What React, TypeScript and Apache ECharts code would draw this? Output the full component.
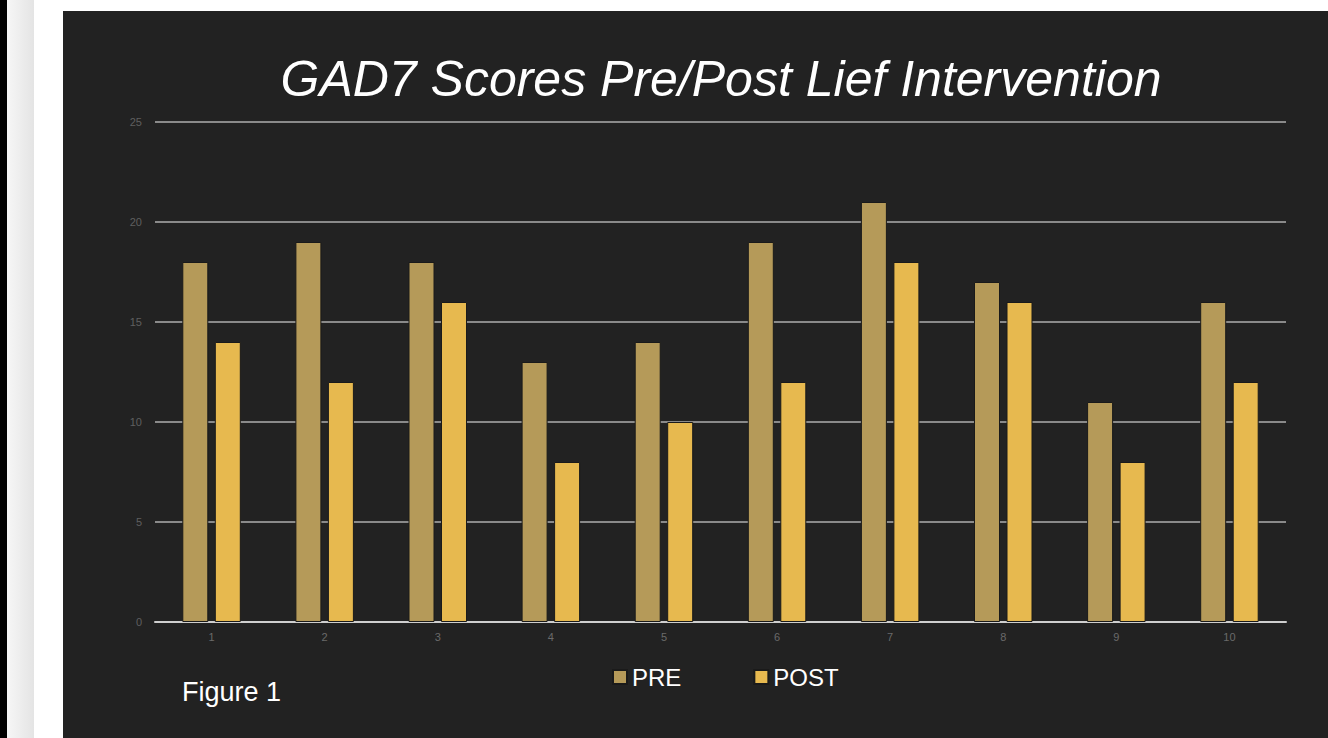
import React, { useEffect, useRef } from "react";
import * as echarts from "echarts";

const categories = ["1", "2", "3", "4", "5", "6", "7", "8", "9", "10"];
const preValues = [18, 19, 18, 13, 14, 19, 21, 17, 11, 16];
const postValues = [14, 12, 16, 8, 10, 12, 18, 16, 8, 12];
const titleText = "GAD7 Scores Pre/Post Lief Intervention";
const figureText = "Figure 1";

export default function App() {
  const ref = useRef<HTMLDivElement>(null);
  useEffect(() => {
    document.body.style.margin = "0";
    const chart = echarts.init(ref.current!, null, { renderer: "svg" });
    chart.setOption({
      animation: false,
      backgroundColor: "#222222",
      textStyle: { fontFamily: "Liberation Sans, Arial, sans-serif" },
      grid: { left: 92, right: 42, top: 111, bottom: 116 },
      legend: {
        data: ["PRE", "POST"],
        left: 549,
        top: 654,
        padding: 0,
        itemWidth: 14,
        itemHeight: 14,
        itemGap: 72,
        icon: "rect",
        textStyle: { color: "#ffffff", fontSize: 24, fontFamily: "Liberation Sans, Arial, sans-serif" },
      },
      graphic: [
        {
          type: "text",
          x: 658,
          y: 68,
          style: {
            text: titleText,
            fill: "#ffffff",
            font: "italic 50px 'Liberation Sans', Arial, sans-serif",
            textAlign: "center",
            textVerticalAlign: "middle",
          },
        },
        {
          type: "text",
          x: 119,
          y: 681,
          style: {
            text: figureText,
            fill: "#ffffff",
            font: "27px 'Liberation Sans', Arial, sans-serif",
            textAlign: "left",
            textVerticalAlign: "middle",
          },
        },
      ],
      xAxis: {
        type: "category",
        data: categories,
        axisTick: { show: false },
        axisLine: { lineStyle: { color: "#cfcfcf", width: 2 } },
        axisLabel: { color: "#6a6a6a", fontSize: 11, margin: 9 },
      },
      yAxis: {
        type: "value",
        min: 0,
        max: 25,
        interval: 5,
        axisLine: { show: false },
        axisTick: { show: false },
        axisLabel: { color: "#5f5f5f", fontSize: 11, margin: 13 },
        splitLine: { lineStyle: { color: "#8a8a8a", width: 2 } },
      },
      series: [
        {
          name: "PRE",
          type: "bar",
          data: preValues,
          barWidth: 26,
          barGap: "25%",
          itemStyle: { color: "#b59a59", borderColor: "#1a1a1a", borderWidth: 1 },
        },
        {
          name: "POST",
          type: "bar",
          data: postValues,
          barWidth: 26,
          itemStyle: { color: "#e7b94f", borderColor: "#1a1a1a", borderWidth: 1 },
        },
      ],
    });
    return () => chart.dispose();
  }, []);
  return (
    <div style={{ position: "fixed", left: 0, top: 0, width: 1328, height: 738, background: "#ffffff" }}>
      <div style={{ position: "absolute", left: 0, top: 0, width: 7, height: 738, background: "#000000" }} />
      <div
        style={{
          position: "absolute",
          left: 7,
          top: 0,
          width: 27,
          height: 738,
          background: "linear-gradient(to right, #f6f6f6, #e4e4e4)",
        }}
      />
      <div ref={ref} style={{ position: "absolute", left: 63, top: 11, width: 1265, height: 727 }} />
    </div>
  );
}
